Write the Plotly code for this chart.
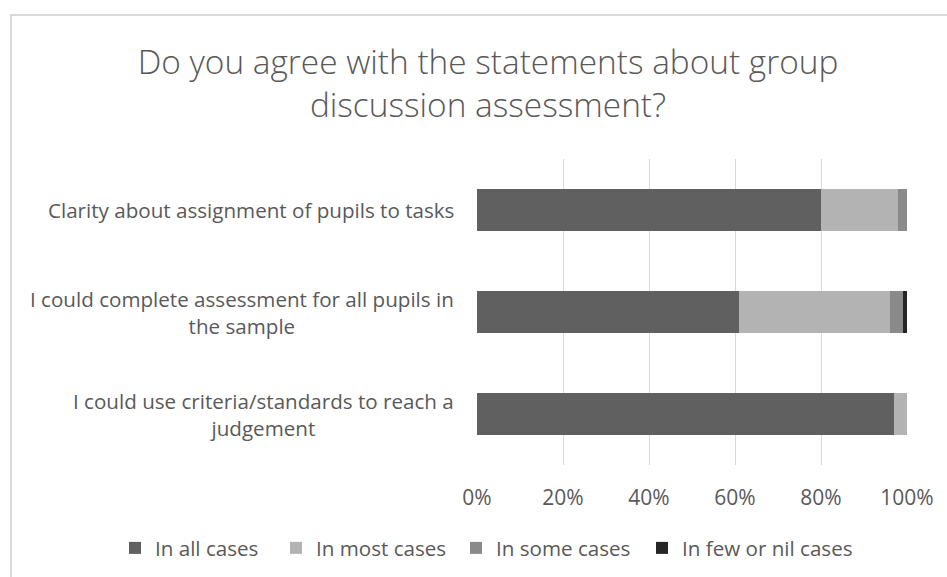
import plotly.graph_objects as go

# Survey statements (top to bottom as displayed)
statements = [
    "Clarity about assignment of pupils to tasks",
    "I could complete assessment for all pupils in<br>the sample",
    "I could use criteria/standards to reach a<br>judgement",
]
series_names = ["In all cases", "In most cases", "In some cases", "In few or nil cases"]
in_all = [0.80, 0.61, 0.97]
in_most = [0.18, 0.35, 0.03]
in_some = [0.02, 0.03, 0.00]
in_few = [0.00, 0.01, 0.00]
series_values = [in_all, in_most, in_some, in_few]
series_colors = ["#606060", "#b3b3b3", "#8a8a8a", "#262626"]

tick_vals = [0, 0.2, 0.4, 0.6, 0.8, 1.0]
tick_text = ["0%", "20%", "40%", "60%", "80%", "100%"]

TEXT = "#595959"
FONT = "Open Sans"

W, H = 947, 577
ML, MR, MT, MB = 477, 40, 159, 112

# one legend box per series so each entry sits at its own position (px of text start)
legend_ids = ["legend", "legend2", "legend3", "legend4"]
legend_text_x = [155, 316, 496, 682]

fig = go.Figure()
for name, vals, col, lid in zip(series_names, series_values, series_colors, legend_ids):
    fig.add_trace(go.Bar(
        y=statements, x=vals, name=name, orientation="h",
        marker=dict(color=col, line=dict(width=0)),
        legend=lid, showlegend=True,
    ))

# Category labels, centred line by line and right-aligned to the axis
for s in statements:
    fig.add_annotation(
        x=0, xref="paper", y=s, yref="y", xanchor="right", xshift=-21,
        text=s, showarrow=False, align="center",
        font=dict(family=FONT, size=20.6, color=TEXT),
    )

# Outer chart frame
pw, ph = W - ML - MR, H - MT - MB
fig.add_shape(
    type="rect", xref="paper", yref="paper",
    x0=(11 - ML) / pw, x1=(W + 20 - ML) / pw,
    y0=-(H + 20 - MT - ph) / ph, y1=(H - 15 - MB) / ph,
    line=dict(color="#d9d9d9", width=2), fillcolor="rgba(0,0,0,0)", layer="below",
)

legend_font = dict(family=FONT, size=20.6, color=TEXT)
legend_layout = {}
for lid, tx in zip(legend_ids, legend_text_x):
    legend_layout[lid] = dict(
        visible=True,
        orientation="h", x=(tx - 40) / W, xref="container", xanchor="left",
        y=1 - 548 / H, yref="container", yanchor="middle",
        font=legend_font, bgcolor="rgba(0,0,0,0)",
    )

fig.update_layout(
    width=W, height=H,
    showlegend=True,
    margin=dict(l=ML, r=MR, t=MT, b=MB),
    paper_bgcolor="white", plot_bgcolor="white",
    barmode="stack", bargap=0.59,
    font=dict(family=FONT, color=TEXT),
    title=dict(
        text="Do you agree with the statements about group<br>discussion assessment?",
        x=488 / W, xanchor="center", y=1 - 74 / H, yanchor="middle",
        font=dict(family=FONT, size=33.4, color=TEXT, weight=300),
    ),
    xaxis=dict(
        range=[0, 1], tickvals=tick_vals, ticktext=tick_text,
        showgrid=True, gridcolor="#d9d9d9", gridwidth=1,
        zeroline=False, showline=False, ticks="",
        tickfont=dict(family=FONT, size=21, color=TEXT),
        ticklabelstandoff=18,
    ),
    yaxis=dict(
        autorange="reversed", showticklabels=False, showgrid=False,
        zeroline=False, showline=False, ticks="",
    ),
    **legend_layout,
)

fig.write_html("out.html")
